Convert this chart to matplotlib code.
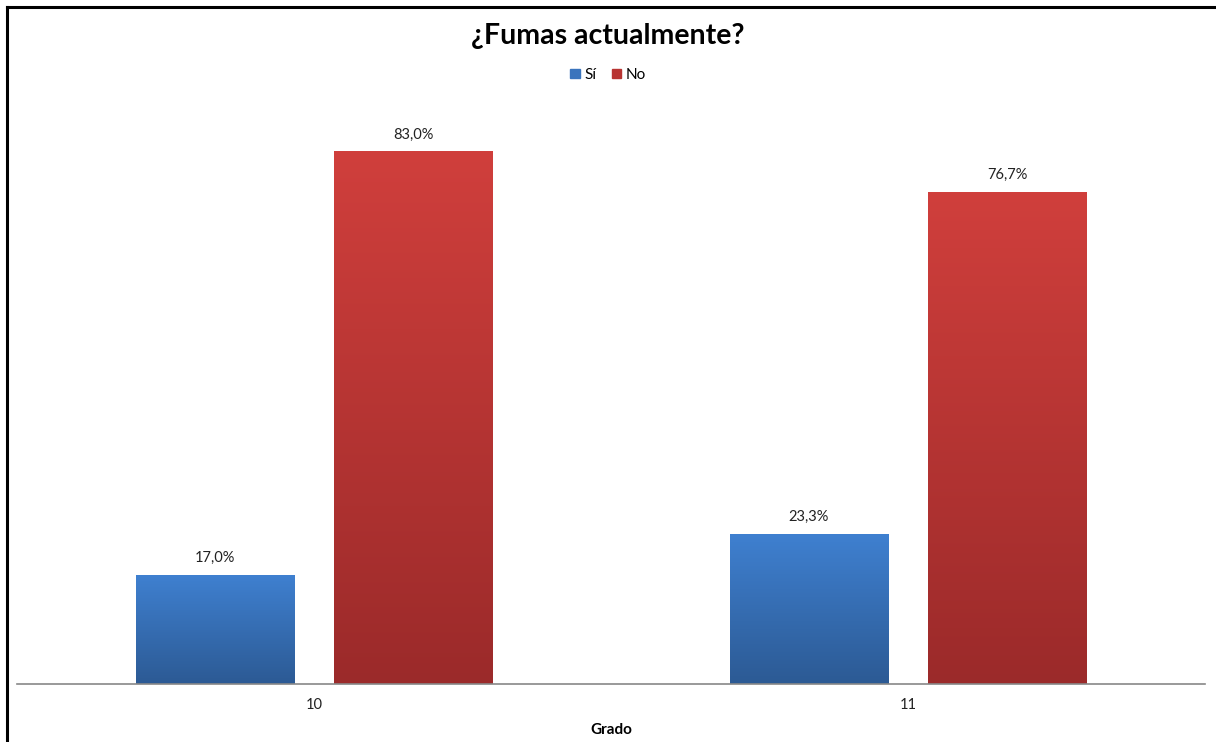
# -*- coding: utf-8 -*-
import numpy as np
import matplotlib
matplotlib.use("Agg")
import matplotlib.pyplot as plt
from matplotlib.colors import LinearSegmentedColormap
from matplotlib.patches import Rectangle
from matplotlib.lines import Line2D

# datos
grados = ["10", "11"]
si = [17.0, 23.3]
no = [83.0, 76.7]
series = ["Sí", "No"]

plt.rcParams['font.family'] = ['Lato', 'DejaVu Sans']

fig = plt.figure(figsize=(12.16, 7.42), dpi=100)
ax = fig.add_axes([17/1216, 1-684/742, (1205-17)/1216, 577/742])

x = np.arange(len(grados))
w = 0.266
off = 0.1668

azul = LinearSegmentedColormap.from_list("azul", ["#2c5a94", "#3f80d0"])
rojo = LinearSegmentedColormap.from_list("rojo", ["#9b2a2a", "#d03f3c"])

b1 = ax.bar(x - off, si, w, color="#3a78c4", zorder=2)
b2 = ax.bar(x + off, no, w, color="#c13835", zorder=2)

# degradado vertical dentro de cada barra
grad = np.linspace(0, 1, 256).reshape(-1, 1)
for bars, cm in ((b1, azul), (b2, rojo)):
    for b in bars:
        x0, y0 = b.get_x(), b.get_y()
        bw, bh = b.get_width(), b.get_height()
        ax.imshow(grad, cmap=cm, aspect="auto", origin="lower",
                  extent=(x0, x0 + bw, y0, y0 + bh), zorder=3)
        ax.text(x0 + bw/2, bh + 1.6, ("%.1f%%" % bh).replace(".", ","),
                ha="center", va="bottom", fontsize=10.5, color="#222222")

ax.set_xlim(-0.5, 1.5)
ax.set_ylim(0, 90)
ax.set_yticks([])
ax.set_xticks(x)
ax.set_xticklabels(grados, fontsize=10.5, color="#222222")
ax.tick_params(axis="x", length=0, pad=10)
for s in ("left", "right", "top"):
    ax.spines[s].set_visible(False)
ax.spines["bottom"].set_color("#888888")
ax.spines["bottom"].set_linewidth(1.2)
ax.spines["bottom"].set_zorder(5)
ax.set_xlabel("Grado", fontsize=11, fontweight="bold", labelpad=8)

fig.text(0.5, 1-36/742, "¿Fumas actualmente?", ha="center", va="center",
         fontsize=20.5, fontweight="bold")

handles = [Rectangle((0, 0), 1, 1, color="#3a74bd"),
           Rectangle((0, 0), 1, 1, color="#b83432")]
fig.legend(handles, series, loc="center", bbox_to_anchor=(0.5, 1-75/742),
           ncol=2, frameon=False, fontsize=11, handlelength=0.6,
           handleheight=0.6, handletextpad=0.3, columnspacing=1.0)

# marco
fig.add_artist(Line2D([7/1216, 7/1216], [0, 1-7/742], color="black",
                      lw=2.2, transform=fig.transFigure))
fig.add_artist(Line2D([7/1216, 1], [1-7/742, 1-7/742], color="black",
                      lw=2.2, transform=fig.transFigure))

fig.savefig("out.png", dpi=100)
